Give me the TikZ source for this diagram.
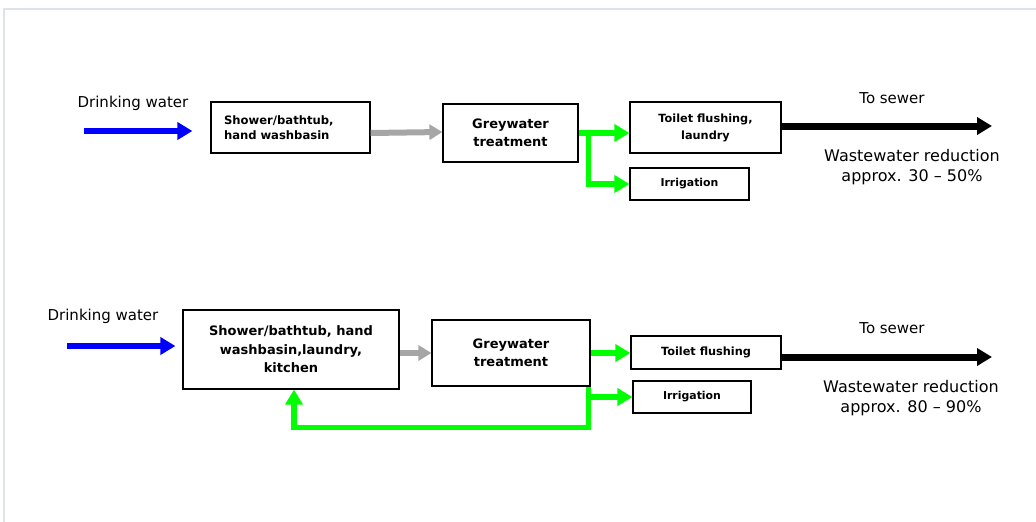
\documentclass[tikz,border=0pt]{standalone}
\usepackage{fontspec}
\setmainfont{DejaVu Sans}
\usetikzlibrary{arrows.meta, positioning}
\definecolor{drinkblue}{RGB}{0,0,255}
\definecolor{greyflow}{RGB}{166,166,166}
\definecolor{reusegreen}{RGB}{0,255,0}
\definecolor{framegrey}{RGB}{221,228,231}

\begin{document}
\begin{tikzpicture}[
    x=1pt, y=-1pt,
    box/.style={rectangle, draw, line width=1.2pt, inner sep=0pt, align=center, font=\bfseries\fontsize{13}{18.5}\selectfont},
    smallbox/.style={box, font=\bfseries\fontsize{11.3}{17}\selectfont},
    label/.style={inner sep=0pt, font=\fontsize{15}{20}\selectfont},
    result/.style={inner sep=0pt, align=center, font=\fontsize{16}{20}\selectfont},
    pipe/.style={line width=6pt, -{Triangle[length=15pt,width=17pt]}}
]
    \useasboundingbox (0,0) rectangle (1036,522);
    % Frame
    \draw[framegrey, line width=2pt] (3,9) -- (1036,9);
    \draw[framegrey, line width=2pt] (4,9) -- (4,522);

    % Row 1: nodes
    \node[label] (drink1) at (133,103) {Drinking water};
    \coordinate (in1) at (84,131);
    \node[box, minimum width=159pt, minimum height=51pt, text width=133pt, align=left,
          font=\bfseries\fontsize{11.6}{15}\selectfont] (shower1) at (290.5,127.5) {Shower/bathtub,\\hand washbasin};
    \node[box, minimum width=135pt, minimum height=58pt] (treat1) at (510.5,133) {Greywater\\treatment};
    \node[smallbox, minimum width=151pt, minimum height=51pt] (toilet1) at (705.5,127.5) {Toilet flushing,\\laundry};
    \node[smallbox, minimum width=119pt, minimum height=32pt, font=\bfseries\fontsize{10.9}{14}\selectfont] (irrig1) at (689.5,184) {Irrigation};
    \coordinate (out1) at (992,126);
    \node[label] (sewer1) at (892,98) {To sewer};
    \node[result] (save1) at (912,167) {Wastewater reduction\\approx. 30 – 50\%};

    % Row 1: connections
    \draw[pipe, drinkblue, shorten >=18pt] (in1) -- (in1 -| shower1.west);
    \draw[pipe, greyflow, -{Triangle[length=13pt,width=15pt]}] ([yshift=-5.5pt]shower1.east) -- ([yshift=1pt]treat1.west);
    \draw[pipe, reusegreen, line width=5.5pt] (treat1.east) -- (treat1.east -| toilet1.west);
    \draw[pipe, reusegreen, line width=5.5pt] ([xshift=10pt]treat1.east) |- (irrig1.west);
    \draw[pipe, black, line width=7pt] (toilet1.east |- out1) -- (out1);

    % Row 2: nodes
    \node[label] (drink2) at (103,316) {Drinking water};
    \coordinate (in2) at (67,346);
    \node[box, minimum width=216pt, minimum height=79pt] (shower2) at (291,349.5) {Shower/bathtub, hand\\washbasin,laundry,\\kitchen};
    \node[box, minimum width=158pt, minimum height=66pt] (treat2) at (511,353) {Greywater\\treatment};
    \node[smallbox, minimum width=150pt, minimum height=33pt] (toilet2) at (706,352.5) {Toilet flushing};
    \node[smallbox, minimum width=118pt, minimum height=32pt, font=\bfseries\fontsize{10.9}{14}\selectfont] (irrig2) at (692,397) {Irrigation};
    \coordinate (out2) at (992,357);
    \node[label] (sewer2) at (892,328) {To sewer};
    \node[result] (save2) at (911,398) {Wastewater reduction\\approx. 80 – 90\%};

    % Row 2: connections
    \draw[pipe, drinkblue, shorten >=7pt] (in2) -- (in2 -| shower2.west);
    \draw[pipe, greyflow, -{Triangle[length=13pt,width=15pt]}] (treat2.west -| shower2.east) -- (treat2.west);
    \draw[pipe, reusegreen, line width=5.5pt] (treat2.east) -- (treat2.east -| toilet2.west);
    \coordinate (split2) at ([xshift=-2pt]treat2.south east);
    \draw[pipe, reusegreen, line width=5.5pt] (split2) -- ++(0,41) -| ([xshift=3pt]shower2.south);
    \draw[pipe, reusegreen, line width=5.5pt] (split2 |- irrig2.west) -- (irrig2.west);
    \draw[pipe, black, line width=7pt] (toilet2.east |- out2) -- (out2);
\end{tikzpicture}
\end{document}
